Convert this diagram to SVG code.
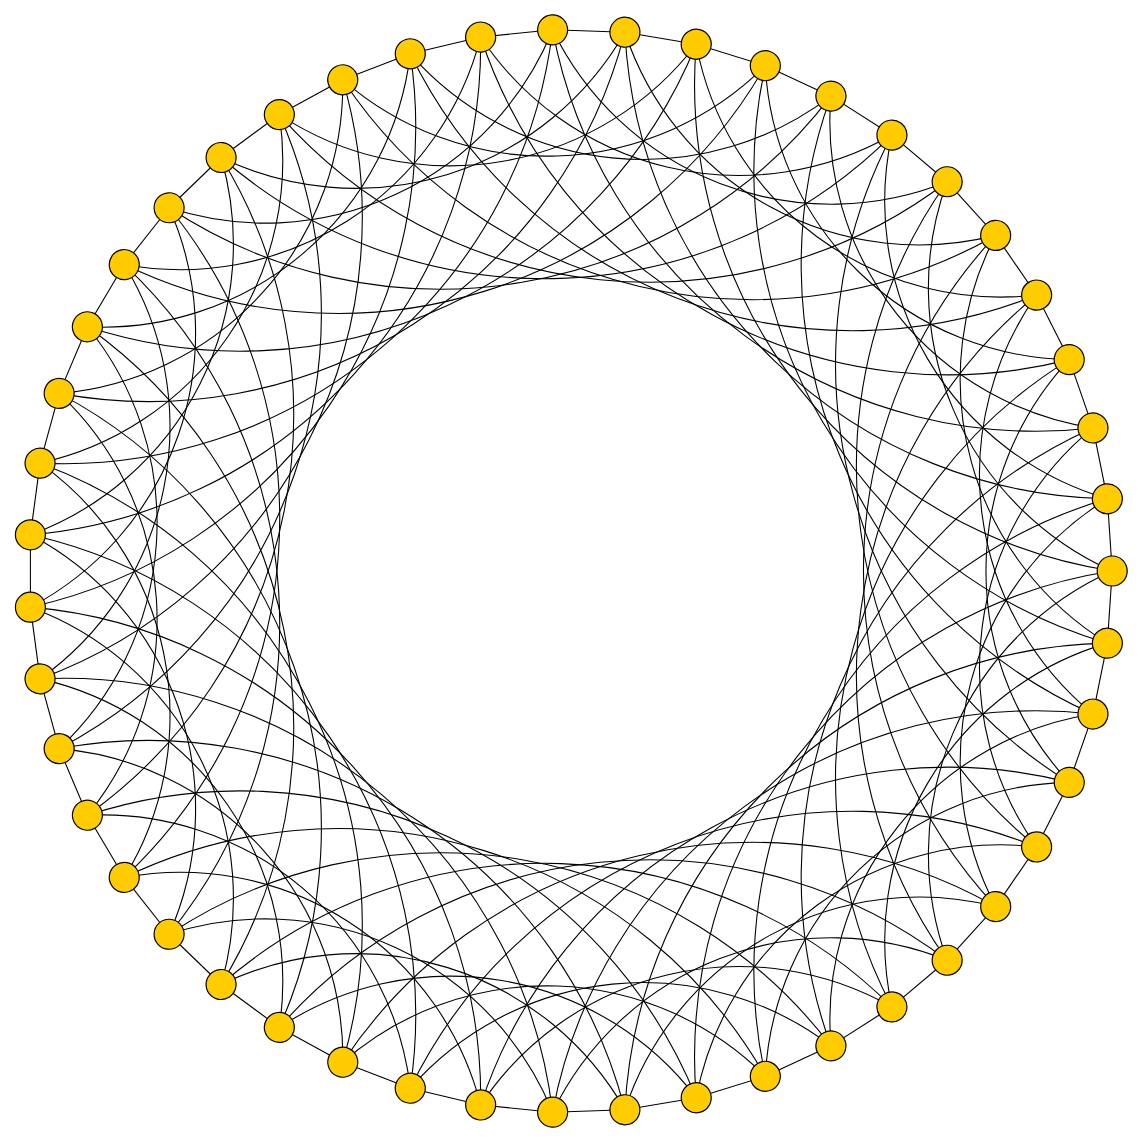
<svg xmlns="http://www.w3.org/2000/svg" xmlns:xlink="http://www.w3.org/1999/xlink" width="1143" height="1143" viewBox="0 0 1143 1143">
<style>
.edge{fill:none;stroke:#000;stroke-width:1.1}
.node{fill:#FFCC00;stroke:#000;stroke-width:1.2}
</style>
<defs>
<g id="e">
<path class="edge" d="M1112.2,571 L1107.37,498.83"/>
<path class="edge" d="M1112.2,571 A310,310 0 0 1 947.11,181.73"/>
<path class="edge" d="M1112.2,571 A492,492 0 0 1 696.23,44.25"/>
</g>
</defs>
<rect width="1143" height="1143" fill="#fff"/>
<g id="connectors">
<use href="#e" xlink:href="#e" transform="rotate(0 570.7 571)"/>
<use href="#e" xlink:href="#e" transform="rotate(7.660 570.7 571)"/>
<use href="#e" xlink:href="#e" transform="rotate(15.319 570.7 571)"/>
<use href="#e" xlink:href="#e" transform="rotate(22.979 570.7 571)"/>
<use href="#e" xlink:href="#e" transform="rotate(30.638 570.7 571)"/>
<use href="#e" xlink:href="#e" transform="rotate(38.298 570.7 571)"/>
<use href="#e" xlink:href="#e" transform="rotate(45.957 570.7 571)"/>
<use href="#e" xlink:href="#e" transform="rotate(53.617 570.7 571)"/>
<use href="#e" xlink:href="#e" transform="rotate(61.277 570.7 571)"/>
<use href="#e" xlink:href="#e" transform="rotate(68.936 570.7 571)"/>
<use href="#e" xlink:href="#e" transform="rotate(76.596 570.7 571)"/>
<use href="#e" xlink:href="#e" transform="rotate(84.255 570.7 571)"/>
<use href="#e" xlink:href="#e" transform="rotate(91.915 570.7 571)"/>
<use href="#e" xlink:href="#e" transform="rotate(99.574 570.7 571)"/>
<use href="#e" xlink:href="#e" transform="rotate(107.234 570.7 571)"/>
<use href="#e" xlink:href="#e" transform="rotate(114.894 570.7 571)"/>
<use href="#e" xlink:href="#e" transform="rotate(122.553 570.7 571)"/>
<use href="#e" xlink:href="#e" transform="rotate(130.213 570.7 571)"/>
<use href="#e" xlink:href="#e" transform="rotate(137.872 570.7 571)"/>
<use href="#e" xlink:href="#e" transform="rotate(145.532 570.7 571)"/>
<use href="#e" xlink:href="#e" transform="rotate(153.191 570.7 571)"/>
<use href="#e" xlink:href="#e" transform="rotate(160.851 570.7 571)"/>
<use href="#e" xlink:href="#e" transform="rotate(168.511 570.7 571)"/>
<use href="#e" xlink:href="#e" transform="rotate(176.170 570.7 571)"/>
<use href="#e" xlink:href="#e" transform="rotate(183.830 570.7 571)"/>
<use href="#e" xlink:href="#e" transform="rotate(191.489 570.7 571)"/>
<use href="#e" xlink:href="#e" transform="rotate(199.149 570.7 571)"/>
<use href="#e" xlink:href="#e" transform="rotate(206.809 570.7 571)"/>
<use href="#e" xlink:href="#e" transform="rotate(214.468 570.7 571)"/>
<use href="#e" xlink:href="#e" transform="rotate(222.128 570.7 571)"/>
<use href="#e" xlink:href="#e" transform="rotate(229.787 570.7 571)"/>
<use href="#e" xlink:href="#e" transform="rotate(237.447 570.7 571)"/>
<use href="#e" xlink:href="#e" transform="rotate(245.106 570.7 571)"/>
<use href="#e" xlink:href="#e" transform="rotate(252.766 570.7 571)"/>
<use href="#e" xlink:href="#e" transform="rotate(260.426 570.7 571)"/>
<use href="#e" xlink:href="#e" transform="rotate(268.085 570.7 571)"/>
<use href="#e" xlink:href="#e" transform="rotate(275.745 570.7 571)"/>
<use href="#e" xlink:href="#e" transform="rotate(283.404 570.7 571)"/>
<use href="#e" xlink:href="#e" transform="rotate(291.064 570.7 571)"/>
<use href="#e" xlink:href="#e" transform="rotate(298.723 570.7 571)"/>
<use href="#e" xlink:href="#e" transform="rotate(306.383 570.7 571)"/>
<use href="#e" xlink:href="#e" transform="rotate(314.043 570.7 571)"/>
<use href="#e" xlink:href="#e" transform="rotate(321.702 570.7 571)"/>
<use href="#e" xlink:href="#e" transform="rotate(329.362 570.7 571)"/>
<use href="#e" xlink:href="#e" transform="rotate(337.021 570.7 571)"/>
<use href="#e" xlink:href="#e" transform="rotate(344.681 570.7 571)"/>
<use href="#e" xlink:href="#e" transform="rotate(352.340 570.7 571)"/>
</g>
<g id="nodes">
<g id="n0"><circle class="node" cx="1112.2" cy="571" r="15" transform="rotate(0 570.7 571)"/></g>
<g id="n1"><circle class="node" cx="1112.2" cy="571" r="15" transform="rotate(7.660 570.7 571)"/></g>
<g id="n2"><circle class="node" cx="1112.2" cy="571" r="15" transform="rotate(15.319 570.7 571)"/></g>
<g id="n3"><circle class="node" cx="1112.2" cy="571" r="15" transform="rotate(22.979 570.7 571)"/></g>
<g id="n4"><circle class="node" cx="1112.2" cy="571" r="15" transform="rotate(30.638 570.7 571)"/></g>
<g id="n5"><circle class="node" cx="1112.2" cy="571" r="15" transform="rotate(38.298 570.7 571)"/></g>
<g id="n6"><circle class="node" cx="1112.2" cy="571" r="15" transform="rotate(45.957 570.7 571)"/></g>
<g id="n7"><circle class="node" cx="1112.2" cy="571" r="15" transform="rotate(53.617 570.7 571)"/></g>
<g id="n8"><circle class="node" cx="1112.2" cy="571" r="15" transform="rotate(61.277 570.7 571)"/></g>
<g id="n9"><circle class="node" cx="1112.2" cy="571" r="15" transform="rotate(68.936 570.7 571)"/></g>
<g id="n10"><circle class="node" cx="1112.2" cy="571" r="15" transform="rotate(76.596 570.7 571)"/></g>
<g id="n11"><circle class="node" cx="1112.2" cy="571" r="15" transform="rotate(84.255 570.7 571)"/></g>
<g id="n12"><circle class="node" cx="1112.2" cy="571" r="15" transform="rotate(91.915 570.7 571)"/></g>
<g id="n13"><circle class="node" cx="1112.2" cy="571" r="15" transform="rotate(99.574 570.7 571)"/></g>
<g id="n14"><circle class="node" cx="1112.2" cy="571" r="15" transform="rotate(107.234 570.7 571)"/></g>
<g id="n15"><circle class="node" cx="1112.2" cy="571" r="15" transform="rotate(114.894 570.7 571)"/></g>
<g id="n16"><circle class="node" cx="1112.2" cy="571" r="15" transform="rotate(122.553 570.7 571)"/></g>
<g id="n17"><circle class="node" cx="1112.2" cy="571" r="15" transform="rotate(130.213 570.7 571)"/></g>
<g id="n18"><circle class="node" cx="1112.2" cy="571" r="15" transform="rotate(137.872 570.7 571)"/></g>
<g id="n19"><circle class="node" cx="1112.2" cy="571" r="15" transform="rotate(145.532 570.7 571)"/></g>
<g id="n20"><circle class="node" cx="1112.2" cy="571" r="15" transform="rotate(153.191 570.7 571)"/></g>
<g id="n21"><circle class="node" cx="1112.2" cy="571" r="15" transform="rotate(160.851 570.7 571)"/></g>
<g id="n22"><circle class="node" cx="1112.2" cy="571" r="15" transform="rotate(168.511 570.7 571)"/></g>
<g id="n23"><circle class="node" cx="1112.2" cy="571" r="15" transform="rotate(176.170 570.7 571)"/></g>
<g id="n24"><circle class="node" cx="1112.2" cy="571" r="15" transform="rotate(183.830 570.7 571)"/></g>
<g id="n25"><circle class="node" cx="1112.2" cy="571" r="15" transform="rotate(191.489 570.7 571)"/></g>
<g id="n26"><circle class="node" cx="1112.2" cy="571" r="15" transform="rotate(199.149 570.7 571)"/></g>
<g id="n27"><circle class="node" cx="1112.2" cy="571" r="15" transform="rotate(206.809 570.7 571)"/></g>
<g id="n28"><circle class="node" cx="1112.2" cy="571" r="15" transform="rotate(214.468 570.7 571)"/></g>
<g id="n29"><circle class="node" cx="1112.2" cy="571" r="15" transform="rotate(222.128 570.7 571)"/></g>
<g id="n30"><circle class="node" cx="1112.2" cy="571" r="15" transform="rotate(229.787 570.7 571)"/></g>
<g id="n31"><circle class="node" cx="1112.2" cy="571" r="15" transform="rotate(237.447 570.7 571)"/></g>
<g id="n32"><circle class="node" cx="1112.2" cy="571" r="15" transform="rotate(245.106 570.7 571)"/></g>
<g id="n33"><circle class="node" cx="1112.2" cy="571" r="15" transform="rotate(252.766 570.7 571)"/></g>
<g id="n34"><circle class="node" cx="1112.2" cy="571" r="15" transform="rotate(260.426 570.7 571)"/></g>
<g id="n35"><circle class="node" cx="1112.2" cy="571" r="15" transform="rotate(268.085 570.7 571)"/></g>
<g id="n36"><circle class="node" cx="1112.2" cy="571" r="15" transform="rotate(275.745 570.7 571)"/></g>
<g id="n37"><circle class="node" cx="1112.2" cy="571" r="15" transform="rotate(283.404 570.7 571)"/></g>
<g id="n38"><circle class="node" cx="1112.2" cy="571" r="15" transform="rotate(291.064 570.7 571)"/></g>
<g id="n39"><circle class="node" cx="1112.2" cy="571" r="15" transform="rotate(298.723 570.7 571)"/></g>
<g id="n40"><circle class="node" cx="1112.2" cy="571" r="15" transform="rotate(306.383 570.7 571)"/></g>
<g id="n41"><circle class="node" cx="1112.2" cy="571" r="15" transform="rotate(314.043 570.7 571)"/></g>
<g id="n42"><circle class="node" cx="1112.2" cy="571" r="15" transform="rotate(321.702 570.7 571)"/></g>
<g id="n43"><circle class="node" cx="1112.2" cy="571" r="15" transform="rotate(329.362 570.7 571)"/></g>
<g id="n44"><circle class="node" cx="1112.2" cy="571" r="15" transform="rotate(337.021 570.7 571)"/></g>
<g id="n45"><circle class="node" cx="1112.2" cy="571" r="15" transform="rotate(344.681 570.7 571)"/></g>
<g id="n46"><circle class="node" cx="1112.2" cy="571" r="15" transform="rotate(352.340 570.7 571)"/></g>
</g>
</svg>
